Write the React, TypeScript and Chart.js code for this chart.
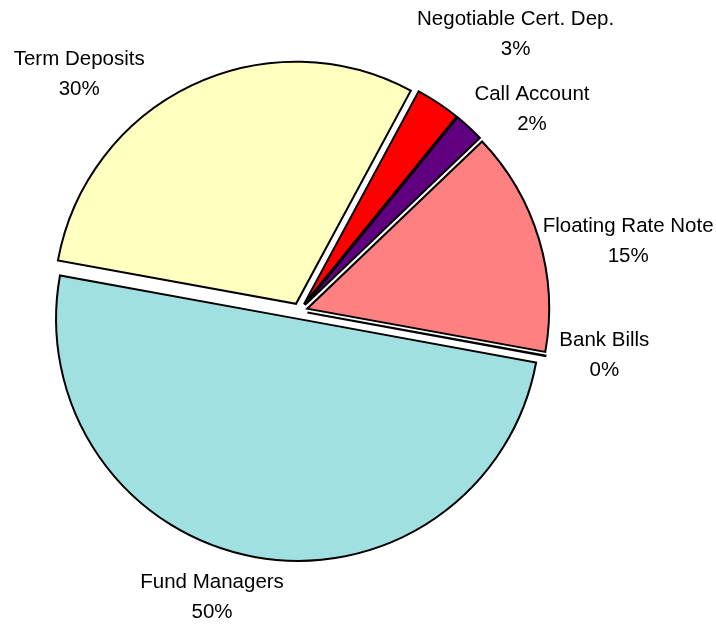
import React, { useEffect, useRef } from "react";
import { Chart, registerables } from "chart.js";

Chart.register(...registerables);

// ---- data ----
const categories = [
  "Negotiable Cert. Dep.",
  "Call Account",
  "Floating Rate Note",
  "Bank Bills",
  "Fund Managers",
  "Term Deposits",
];
const values = [3, 2, 15, 0.03, 50, 30];
const sliceColors = ["#FF0000", "#600080", "#FF8080", "#FFFFFF", "#A0E0E0", "#FFFFC0"];

// ---- presentation ----
const EXPLODE_PX = 8;
// label placement in polar form around the pie centre (deg clockwise from top, distance px)
const labelPolar = [
  { angle: 38, dist: 351 },
  { angle: 49, dist: 308 },
  { angle: 78, dist: 336 },
  { angle: 98.2, dist: 308 },
  { angle: 197, dist: 299 },
  { angle: 317, dist: 323 },
];
const FONT = '20.5px "Liberation Sans", Arial, Helvetica, sans-serif';

const explodePlugin = {
  id: "explodeSlices",
  beforeDatasetDraw(chart: any, args: any) {
    const ctx = chart.ctx;
    args.meta.data.forEach((arc: any) => {
      const half = (arc.startAngle + arc.endAngle) / 2;
      ctx.save();
      ctx.translate(Math.cos(half) * EXPLODE_PX, Math.sin(half) * EXPLODE_PX);
      arc.draw(ctx);
      ctx.restore();
    });
    return false;
  },
};

const labelPlugin = {
  id: "outsideLabels",
  afterDatasetsDraw(chart: any) {
    const meta = chart.getDatasetMeta(0);
    if (!meta.data.length) return;
    const cx = meta.data[0].x;
    const cy = meta.data[0].y;
    const total = values.reduce((a, b) => a + b, 0);
    const ctx = chart.ctx;
    ctx.save();
    ctx.font = FONT;
    ctx.fillStyle = "#000";
    ctx.textAlign = "center";
    ctx.textBaseline = "middle";
    categories.forEach((name, i) => {
      const p = labelPolar[i];
      const a = ((p.angle - 90) * Math.PI) / 180;
      const x = cx + Math.cos(a) * p.dist;
      const y = cy + Math.sin(a) * p.dist;
      const pct = Math.round((values[i] / total) * 100) + "%";
      ctx.fillText(name, x, y - 15);
      ctx.fillText(pct, x, y + 15);
    });
    ctx.restore();
  },
};

export default function App() {
  const canvasRef = useRef<HTMLCanvasElement | null>(null);

  useEffect(() => {
    if (!canvasRef.current) return;
    const chart = new Chart(canvasRef.current, {
      type: "pie",
      data: {
        labels: categories,
        datasets: [
          {
            data: values,
            backgroundColor: sliceColors,
            borderColor: "#000000",
            borderWidth: 2,
            borderJoinStyle: "miter",
          } as any,
        ],
      },
      options: {
        responsive: false,
        devicePixelRatio: 1,
        animation: false,
        rotation: 28.3,
        radius: 242,
        layout: { padding: { left: 0, right: 117, top: 0, bottom: 2 } },
        plugins: {
          legend: { display: false },
          tooltip: { enabled: false },
        },
      } as any,
      plugins: [explodePlugin, labelPlugin],
    });
    return () => chart.destroy();
  }, []);

  return (
    <div style={{ position: "fixed", left: 0, top: 0, width: 716, height: 624, background: "#fff" }}>
      <canvas ref={canvasRef} width={716} height={624} style={{ display: "block" }} />
    </div>
  );
}
